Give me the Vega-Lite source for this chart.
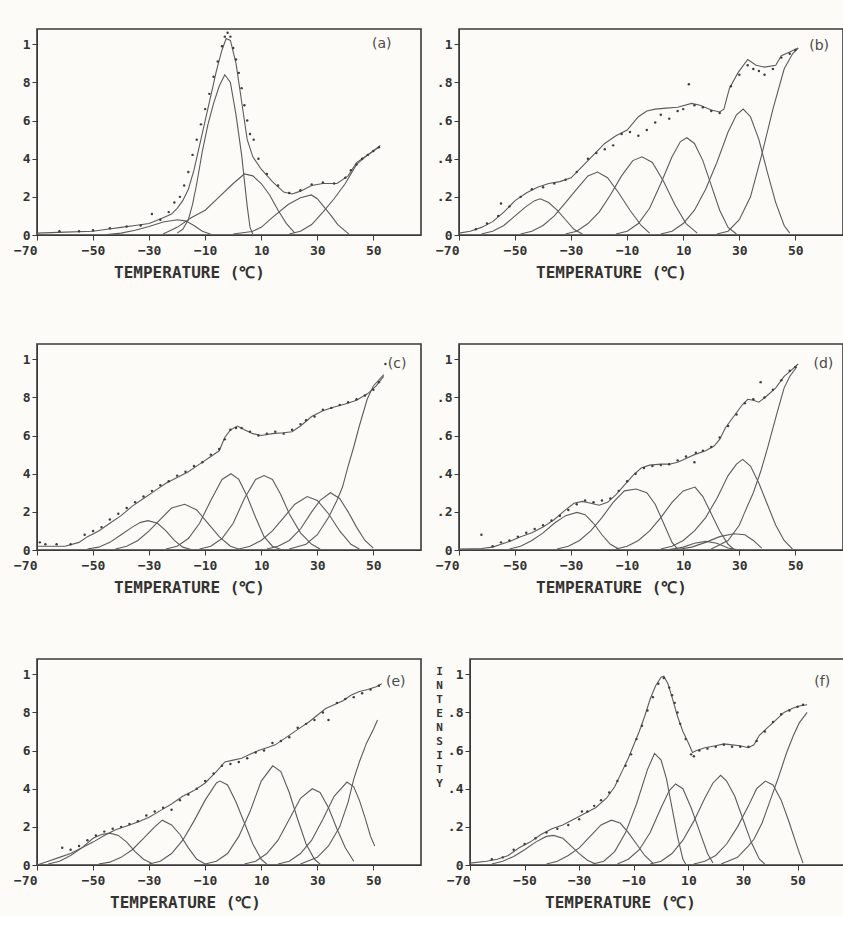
{
"$schema": "https://vega.github.io/schema/vega-lite/v6.json",
"background": "#fdfbf7",
"padding": {"left": 12, "top": 28, "right": 0, "bottom": 5},
"config": {
  "view": {"stroke": "#3a3a3a", "strokeWidth": 1.6},
  "axis": {"grid": false, "domainColor": "#3a3a3a", "tickColor": "#3a3a3a", "labelColor": "#333", "labelFont": "DejaVu Sans Mono", "labelFontSize": 13, "labelFontWeight": "bold", "titleFont": "DejaVu Sans Mono", "titleColor": "#333", "titleFontWeight": "bold", "titleFontSize": 16}
},
"datasets": {
"a": [
{"t":-70,"v":0.01,"s":"fit"},{"t":-60,"v":0.015,"s":"fit"},{"t":-50,"v":0.02,"s":"fit"},{"t":-45,"v":0.03,"s":"fit"},{"t":-40,"v":0.04,"s":"fit"},{"t":-35,"v":0.05,"s":"fit"},{"t":-30,"v":0.06,"s":"fit"},{"t":-25,"v":0.09,"s":"fit"},{"t":-22,"v":0.11,"s":"fit"},{"t":-20,"v":0.14,"s":"fit"},{"t":-18,"v":0.18,"s":"fit"},{"t":-16,"v":0.24,"s":"fit"},{"t":-14,"v":0.34,"s":"fit"},{"t":-12,"v":0.47,"s":"fit"},{"t":-10,"v":0.6,"s":"fit"},{"t":-8,"v":0.73,"s":"fit"},{"t":-6,"v":0.86,"s":"fit"},{"t":-4,"v":0.97,"s":"fit"},{"t":-2.5,"v":1.03,"s":"fit"},{"t":-1,"v":1.02,"s":"fit"},{"t":1,"v":0.9,"s":"fit"},{"t":3,"v":0.7,"s":"fit"},{"t":5,"v":0.5,"s":"fit"},{"t":7,"v":0.41,"s":"fit"},{"t":10,"v":0.345,"s":"fit"},{"t":14,"v":0.28,"s":"fit"},{"t":18,"v":0.225,"s":"fit"},{"t":21,"v":0.215,"s":"fit"},{"t":24,"v":0.23,"s":"fit"},{"t":28,"v":0.26,"s":"fit"},{"t":32,"v":0.27,"s":"fit"},{"t":37,"v":0.27,"s":"fit"},{"t":41,"v":0.31,"s":"fit"},{"t":44,"v":0.38,"s":"fit"},{"t":49,"v":0.43,"s":"fit"},{"t":52.5,"v":0.47,"s":"fit"},
{"t":-45,"v":0.003,"s":"c1"},{"t":-40,"v":0.01,"s":"c1"},{"t":-35,"v":0.025,"s":"c1"},{"t":-30,"v":0.045,"s":"c1"},{"t":-25,"v":0.068,"s":"c1"},{"t":-20,"v":0.08,"s":"c1"},{"t":-17,"v":0.074,"s":"c1"},{"t":-14,"v":0.05,"s":"c1"},{"t":-11,"v":0.02,"s":"c1"},{"t":-8,"v":0.004,"s":"c1"},
{"t":-20,"v":0.01,"s":"c2"},{"t":-18,"v":0.03,"s":"c2"},{"t":-16,"v":0.08,"s":"c2"},{"t":-14.5,"v":0.16,"s":"c2"},{"t":-13,"v":0.27,"s":"c2"},{"t":-11,"v":0.44,"s":"c2"},{"t":-9,"v":0.58,"s":"c2"},{"t":-7,"v":0.69,"s":"c2"},{"t":-5,"v":0.78,"s":"c2"},{"t":-3,"v":0.84,"s":"c2"},{"t":-1,"v":0.8,"s":"c2"},{"t":1,"v":0.63,"s":"c2"},{"t":3,"v":0.42,"s":"c2"},{"t":5,"v":0.15,"s":"c2"},{"t":6,"v":0.04,"s":"c2"},{"t":7,"v":0.005,"s":"c2"},
{"t":-25,"v":0.005,"s":"c3"},{"t":-20,"v":0.04,"s":"c3"},{"t":-15,"v":0.09,"s":"c3"},{"t":-10,"v":0.13,"s":"c3"},{"t":-5,"v":0.2,"s":"c3"},{"t":0,"v":0.27,"s":"c3"},{"t":4,"v":0.32,"s":"c3"},{"t":7,"v":0.31,"s":"c3"},{"t":10,"v":0.27,"s":"c3"},{"t":13,"v":0.21,"s":"c3"},{"t":16,"v":0.13,"s":"c3"},{"t":19,"v":0.06,"s":"c3"},{"t":22,"v":0.01,"s":"c3"},
{"t":0,"v":0.005,"s":"c4"},{"t":6.7,"v":0.018,"s":"c4"},{"t":10,"v":0.04,"s":"c4"},{"t":13.8,"v":0.09,"s":"c4"},{"t":19.6,"v":0.16,"s":"c4"},{"t":24,"v":0.195,"s":"c4"},{"t":27.9,"v":0.21,"s":"c4"},{"t":30,"v":0.19,"s":"c4"},{"t":32.6,"v":0.144,"s":"c4"},{"t":35,"v":0.1,"s":"c4"},{"t":37.3,"v":0.054,"s":"c4"},{"t":41.4,"v":0.003,"s":"c4"},
{"t":20,"v":0.005,"s":"c5"},{"t":24,"v":0.02,"s":"c5"},{"t":28,"v":0.055,"s":"c5"},{"t":32,"v":0.12,"s":"c5"},{"t":36,"v":0.19,"s":"c5"},{"t":40,"v":0.27,"s":"c5"},{"t":44,"v":0.37,"s":"c5"},{"t":48,"v":0.42,"s":"c5"},{"t":52,"v":0.46,"s":"c5"},
{"t":-62,"v":0.02,"s":"pts"},{"t":-55,"v":0.02,"s":"pts"},{"t":-50,"v":0.025,"s":"pts"},{"t":-44,"v":0.035,"s":"pts"},{"t":-38,"v":0.045,"s":"pts"},{"t":-33,"v":0.05,"s":"pts"},{"t":-29,"v":0.11,"s":"pts"},{"t":-26,"v":0.08,"s":"pts"},{"t":-23,"v":0.12,"s":"pts"},{"t":-21,"v":0.17,"s":"pts"},{"t":-19,"v":0.2,"s":"pts"},{"t":-17.5,"v":0.26,"s":"pts"},{"t":-16,"v":0.33,"s":"pts"},{"t":-14.5,"v":0.42,"s":"pts"},{"t":-13,"v":0.5,"s":"pts"},{"t":-11.5,"v":0.58,"s":"pts"},{"t":-10,"v":0.66,"s":"pts"},{"t":-8.5,"v":0.74,"s":"pts"},{"t":-7,"v":0.83,"s":"pts"},{"t":-5.5,"v":0.91,"s":"pts"},{"t":-4,"v":0.99,"s":"pts"},{"t":-3,"v":1.04,"s":"pts"},{"t":-2,"v":1.06,"s":"pts"},{"t":-1,"v":1.04,"s":"pts"},{"t":0,"v":0.98,"s":"pts"},{"t":1,"v":0.92,"s":"pts"},{"t":2,"v":0.85,"s":"pts"},{"t":3,"v":0.77,"s":"pts"},{"t":4,"v":0.68,"s":"pts"},{"t":5,"v":0.6,"s":"pts"},{"t":6,"v":0.53,"s":"pts"},{"t":7.3,"v":0.5,"s":"pts"},{"t":9,"v":0.4,"s":"pts"},{"t":12,"v":0.32,"s":"pts"},{"t":16,"v":0.26,"s":"pts"},{"t":20,"v":0.22,"s":"pts"},{"t":24,"v":0.235,"s":"pts"},{"t":28,"v":0.265,"s":"pts"},{"t":32,"v":0.275,"s":"pts"},{"t":36,"v":0.27,"s":"pts"},{"t":40,"v":0.3,"s":"pts"},{"t":42,"v":0.34,"s":"pts"},{"t":44,"v":0.37,"s":"pts"},{"t":46,"v":0.4,"s":"pts"},{"t":48,"v":0.42,"s":"pts"},{"t":50,"v":0.44,"s":"pts"},{"t":52,"v":0.46,"s":"pts"}
],
"b": [
{"t":-70,"v":0.01,"s":"fit"},{"t":-66,"v":0.02,"s":"fit"},{"t":-62,"v":0.04,"s":"fit"},{"t":-58,"v":0.07,"s":"fit"},{"t":-54,"v":0.12,"s":"fit"},{"t":-50,"v":0.18,"s":"fit"},{"t":-46,"v":0.22,"s":"fit"},{"t":-42,"v":0.25,"s":"fit"},{"t":-38,"v":0.27,"s":"fit"},{"t":-34,"v":0.28,"s":"fit"},{"t":-30,"v":0.3,"s":"fit"},{"t":-26,"v":0.36,"s":"fit"},{"t":-22,"v":0.42,"s":"fit"},{"t":-18,"v":0.48,"s":"fit"},{"t":-14,"v":0.52,"s":"fit"},{"t":-10,"v":0.55,"s":"fit"},{"t":-6,"v":0.62,"s":"fit"},{"t":-3,"v":0.65,"s":"fit"},{"t":0,"v":0.66,"s":"fit"},{"t":4,"v":0.665,"s":"fit"},{"t":8,"v":0.67,"s":"fit"},{"t":13,"v":0.69,"s":"fit"},{"t":16,"v":0.68,"s":"fit"},{"t":20,"v":0.655,"s":"fit"},{"t":23,"v":0.645,"s":"fit"},{"t":24.5,"v":0.66,"s":"fit"},{"t":26.5,"v":0.77,"s":"fit"},{"t":29.5,"v":0.85,"s":"fit"},{"t":33,"v":0.92,"s":"fit"},{"t":36,"v":0.89,"s":"fit"},{"t":39,"v":0.88,"s":"fit"},{"t":43,"v":0.89,"s":"fit"},{"t":45,"v":0.94,"s":"fit"},{"t":48,"v":0.96,"s":"fit"},{"t":51,"v":0.98,"s":"fit"},
{"t":-62,"v":0.005,"s":"c1"},{"t":-58,"v":0.02,"s":"c1"},{"t":-54,"v":0.05,"s":"c1"},{"t":-50,"v":0.1,"s":"c1"},{"t":-46,"v":0.15,"s":"c1"},{"t":-43,"v":0.18,"s":"c1"},{"t":-41,"v":0.19,"s":"c1"},{"t":-38,"v":0.17,"s":"c1"},{"t":-35,"v":0.13,"s":"c1"},{"t":-32,"v":0.08,"s":"c1"},{"t":-29,"v":0.03,"s":"c1"},{"t":-26,"v":0.005,"s":"c1"},
{"t":-48,"v":0.005,"s":"c2"},{"t":-44,"v":0.02,"s":"c2"},{"t":-40,"v":0.05,"s":"c2"},{"t":-36,"v":0.1,"s":"c2"},{"t":-32,"v":0.17,"s":"c2"},{"t":-28,"v":0.24,"s":"c2"},{"t":-24,"v":0.31,"s":"c2"},{"t":-20.6,"v":0.33,"s":"c2"},{"t":-17,"v":0.3,"s":"c2"},{"t":-13,"v":0.22,"s":"c2"},{"t":-9,"v":0.13,"s":"c2"},{"t":-5,"v":0.05,"s":"c2"},{"t":-2,"v":0.01,"s":"c2"},
{"t":-32,"v":0.005,"s":"c3"},{"t":-28,"v":0.02,"s":"c3"},{"t":-24,"v":0.06,"s":"c3"},{"t":-20,"v":0.12,"s":"c3"},{"t":-16,"v":0.21,"s":"c3"},{"t":-12,"v":0.31,"s":"c3"},{"t":-8,"v":0.39,"s":"c3"},{"t":-4.7,"v":0.41,"s":"c3"},{"t":-1,"v":0.38,"s":"c3"},{"t":3,"v":0.28,"s":"c3"},{"t":7,"v":0.16,"s":"c3"},{"t":11,"v":0.06,"s":"c3"},{"t":15,"v":0.01,"s":"c3"},
{"t":-14,"v":0.005,"s":"c4"},{"t":-10,"v":0.02,"s":"c4"},{"t":-6,"v":0.06,"s":"c4"},{"t":-2,"v":0.14,"s":"c4"},{"t":2,"v":0.27,"s":"c4"},{"t":6,"v":0.41,"s":"c4"},{"t":9,"v":0.49,"s":"c4"},{"t":11.3,"v":0.51,"s":"c4"},{"t":14,"v":0.48,"s":"c4"},{"t":17,"v":0.39,"s":"c4"},{"t":20,"v":0.26,"s":"c4"},{"t":23,"v":0.13,"s":"c4"},{"t":26,"v":0.04,"s":"c4"},{"t":29,"v":0.005,"s":"c4"},
{"t":2,"v":0.005,"s":"c5"},{"t":6,"v":0.02,"s":"c5"},{"t":10,"v":0.06,"s":"c5"},{"t":14,"v":0.13,"s":"c5"},{"t":18,"v":0.24,"s":"c5"},{"t":22,"v":0.38,"s":"c5"},{"t":26,"v":0.54,"s":"c5"},{"t":29,"v":0.63,"s":"c5"},{"t":31.4,"v":0.66,"s":"c5"},{"t":34,"v":0.62,"s":"c5"},{"t":37,"v":0.5,"s":"c5"},{"t":40,"v":0.33,"s":"c5"},{"t":43,"v":0.17,"s":"c5"},{"t":46,"v":0.05,"s":"c5"},{"t":48,"v":0.01,"s":"c5"},
{"t":22,"v":0.005,"s":"c6"},{"t":26,"v":0.02,"s":"c6"},{"t":30,"v":0.08,"s":"c6"},{"t":34,"v":0.2,"s":"c6"},{"t":38,"v":0.42,"s":"c6"},{"t":42,"v":0.66,"s":"c6"},{"t":46,"v":0.87,"s":"c6"},{"t":49,"v":0.95,"s":"c6"},{"t":51,"v":0.98,"s":"c6"},
{"t":-64,"v":0.03,"s":"pts"},{"t":-60,"v":0.06,"s":"pts"},{"t":-56,"v":0.1,"s":"pts"},{"t":-55,"v":0.165,"s":"pts"},{"t":-52,"v":0.15,"s":"pts"},{"t":-48,"v":0.2,"s":"pts"},{"t":-44,"v":0.24,"s":"pts"},{"t":-40,"v":0.25,"s":"pts"},{"t":-36,"v":0.27,"s":"pts"},{"t":-32,"v":0.29,"s":"pts"},{"t":-28,"v":0.33,"s":"pts"},{"t":-24,"v":0.4,"s":"pts"},{"t":-21,"v":0.43,"s":"pts"},{"t":-18,"v":0.45,"s":"pts"},{"t":-15,"v":0.47,"s":"pts"},{"t":-12,"v":0.53,"s":"pts"},{"t":-9,"v":0.54,"s":"pts"},{"t":-6,"v":0.52,"s":"pts"},{"t":-3,"v":0.55,"s":"pts"},{"t":0,"v":0.59,"s":"pts"},{"t":2,"v":0.63,"s":"pts"},{"t":5,"v":0.61,"s":"pts"},{"t":8,"v":0.65,"s":"pts"},{"t":10,"v":0.66,"s":"pts"},{"t":12,"v":0.79,"s":"pts"},{"t":14,"v":0.68,"s":"pts"},{"t":17,"v":0.67,"s":"pts"},{"t":20,"v":0.65,"s":"pts"},{"t":23,"v":0.64,"s":"pts"},{"t":27,"v":0.78,"s":"pts"},{"t":30,"v":0.84,"s":"pts"},{"t":33,"v":0.89,"s":"pts"},{"t":35,"v":0.87,"s":"pts"},{"t":37,"v":0.86,"s":"pts"},{"t":39,"v":0.84,"s":"pts"},{"t":42,"v":0.87,"s":"pts"},{"t":45,"v":0.93,"s":"pts"},{"t":48,"v":0.95,"s":"pts"},{"t":50,"v":0.97,"s":"pts"}
],
"c": [
{"t":-70,"v":0.02,"s":"fit"},{"t":-65,"v":0.02,"s":"fit"},{"t":-60,"v":0.02,"s":"fit"},{"t":-55,"v":0.04,"s":"fit"},{"t":-52,"v":0.07,"s":"fit"},{"t":-48,"v":0.1,"s":"fit"},{"t":-44,"v":0.14,"s":"fit"},{"t":-40,"v":0.18,"s":"fit"},{"t":-36,"v":0.23,"s":"fit"},{"t":-32,"v":0.27,"s":"fit"},{"t":-28,"v":0.31,"s":"fit"},{"t":-24,"v":0.35,"s":"fit"},{"t":-20,"v":0.38,"s":"fit"},{"t":-16,"v":0.41,"s":"fit"},{"t":-12,"v":0.45,"s":"fit"},{"t":-8,"v":0.49,"s":"fit"},{"t":-5,"v":0.52,"s":"fit"},{"t":-3,"v":0.59,"s":"fit"},{"t":-1,"v":0.63,"s":"fit"},{"t":1.5,"v":0.65,"s":"fit"},{"t":4,"v":0.63,"s":"fit"},{"t":7,"v":0.61,"s":"fit"},{"t":10,"v":0.6,"s":"fit"},{"t":14,"v":0.61,"s":"fit"},{"t":18,"v":0.615,"s":"fit"},{"t":21,"v":0.62,"s":"fit"},{"t":24,"v":0.65,"s":"fit"},{"t":28,"v":0.7,"s":"fit"},{"t":32,"v":0.73,"s":"fit"},{"t":36,"v":0.75,"s":"fit"},{"t":40,"v":0.765,"s":"fit"},{"t":44,"v":0.785,"s":"fit"},{"t":48,"v":0.82,"s":"fit"},{"t":51,"v":0.86,"s":"fit"},{"t":53.7,"v":0.91,"s":"fit"},
{"t":-52,"v":0.005,"s":"c1"},{"t":-48,"v":0.015,"s":"c1"},{"t":-44,"v":0.04,"s":"c1"},{"t":-40,"v":0.08,"s":"c1"},{"t":-36,"v":0.12,"s":"c1"},{"t":-33,"v":0.145,"s":"c1"},{"t":-30.4,"v":0.154,"s":"c1"},{"t":-27,"v":0.14,"s":"c1"},{"t":-24,"v":0.1,"s":"c1"},{"t":-21,"v":0.05,"s":"c1"},{"t":-18,"v":0.015,"s":"c1"},{"t":-15,"v":0.003,"s":"c1"},
{"t":-42,"v":0.005,"s":"c2"},{"t":-38,"v":0.02,"s":"c2"},{"t":-34,"v":0.05,"s":"c2"},{"t":-30,"v":0.1,"s":"c2"},{"t":-26,"v":0.16,"s":"c2"},{"t":-22,"v":0.22,"s":"c2"},{"t":-17.3,"v":0.24,"s":"c2"},{"t":-13,"v":0.21,"s":"c2"},{"t":-9,"v":0.14,"s":"c2"},{"t":-5,"v":0.07,"s":"c2"},{"t":-1,"v":0.02,"s":"c2"},{"t":2,"v":0.005,"s":"c2"},
{"t":-24,"v":0.005,"s":"c3"},{"t":-20,"v":0.02,"s":"c3"},{"t":-16,"v":0.06,"s":"c3"},{"t":-12,"v":0.14,"s":"c3"},{"t":-8,"v":0.26,"s":"c3"},{"t":-4,"v":0.37,"s":"c3"},{"t":-0.8,"v":0.4,"s":"c3"},{"t":2,"v":0.37,"s":"c3"},{"t":5,"v":0.28,"s":"c3"},{"t":8,"v":0.17,"s":"c3"},{"t":11,"v":0.07,"s":"c3"},{"t":14,"v":0.02,"s":"c3"},{"t":17,"v":0.003,"s":"c3"},
{"t":-12,"v":0.005,"s":"c4"},{"t":-8,"v":0.02,"s":"c4"},{"t":-4,"v":0.06,"s":"c4"},{"t":0,"v":0.14,"s":"c4"},{"t":4,"v":0.27,"s":"c4"},{"t":8,"v":0.37,"s":"c4"},{"t":11,"v":0.39,"s":"c4"},{"t":14,"v":0.37,"s":"c4"},{"t":17,"v":0.29,"s":"c4"},{"t":20,"v":0.19,"s":"c4"},{"t":24,"v":0.09,"s":"c4"},{"t":28,"v":0.03,"s":"c4"},{"t":31,"v":0.005,"s":"c4"},
{"t":2,"v":0.005,"s":"c5"},{"t":6,"v":0.02,"s":"c5"},{"t":10,"v":0.05,"s":"c5"},{"t":14,"v":0.1,"s":"c5"},{"t":18,"v":0.17,"s":"c5"},{"t":22,"v":0.24,"s":"c5"},{"t":26.4,"v":0.28,"s":"c5"},{"t":30,"v":0.26,"s":"c5"},{"t":34,"v":0.19,"s":"c5"},{"t":38,"v":0.1,"s":"c5"},{"t":42,"v":0.03,"s":"c5"},{"t":45,"v":0.005,"s":"c5"},
{"t":12,"v":0.005,"s":"c6"},{"t":16,"v":0.02,"s":"c6"},{"t":20,"v":0.05,"s":"c6"},{"t":24,"v":0.11,"s":"c6"},{"t":28,"v":0.2,"s":"c6"},{"t":31,"v":0.26,"s":"c6"},{"t":34.7,"v":0.3,"s":"c6"},{"t":38,"v":0.27,"s":"c6"},{"t":41,"v":0.2,"s":"c6"},{"t":44,"v":0.12,"s":"c6"},{"t":47,"v":0.05,"s":"c6"},{"t":50,"v":0.01,"s":"c6"},
{"t":20,"v":0.005,"s":"c7"},{"t":26,"v":0.03,"s":"c7"},{"t":30,"v":0.08,"s":"c7"},{"t":34,"v":0.17,"s":"c7"},{"t":37,"v":0.26,"s":"c7"},{"t":39,"v":0.33,"s":"c7"},{"t":41,"v":0.44,"s":"c7"},{"t":43,"v":0.54,"s":"c7"},{"t":45,"v":0.65,"s":"c7"},{"t":47.8,"v":0.79,"s":"c7"},{"t":50,"v":0.86,"s":"c7"},{"t":53.7,"v":0.92,"s":"c7"},
{"t":-69,"v":0.04,"s":"pts"},{"t":-67,"v":0.03,"s":"pts"},{"t":-63,"v":0.03,"s":"pts"},{"t":-58,"v":0.03,"s":"pts"},{"t":-53,"v":0.08,"s":"pts"},{"t":-50,"v":0.1,"s":"pts"},{"t":-47,"v":0.12,"s":"pts"},{"t":-44,"v":0.16,"s":"pts"},{"t":-41,"v":0.19,"s":"pts"},{"t":-38,"v":0.22,"s":"pts"},{"t":-35,"v":0.25,"s":"pts"},{"t":-32,"v":0.28,"s":"pts"},{"t":-29,"v":0.31,"s":"pts"},{"t":-26,"v":0.34,"s":"pts"},{"t":-23,"v":0.36,"s":"pts"},{"t":-20,"v":0.39,"s":"pts"},{"t":-17,"v":0.41,"s":"pts"},{"t":-14,"v":0.44,"s":"pts"},{"t":-11,"v":0.46,"s":"pts"},{"t":-8,"v":0.5,"s":"pts"},{"t":-5,"v":0.53,"s":"pts"},{"t":-3,"v":0.58,"s":"pts"},{"t":-1,"v":0.63,"s":"pts"},{"t":1,"v":0.64,"s":"pts"},{"t":3,"v":0.64,"s":"pts"},{"t":6,"v":0.62,"s":"pts"},{"t":9,"v":0.6,"s":"pts"},{"t":12,"v":0.61,"s":"pts"},{"t":15,"v":0.62,"s":"pts"},{"t":18,"v":0.61,"s":"pts"},{"t":21,"v":0.63,"s":"pts"},{"t":24,"v":0.66,"s":"pts"},{"t":26,"v":0.68,"s":"pts"},{"t":29,"v":0.7,"s":"pts"},{"t":32,"v":0.735,"s":"pts"},{"t":35,"v":0.745,"s":"pts"},{"t":38,"v":0.76,"s":"pts"},{"t":41,"v":0.775,"s":"pts"},{"t":44,"v":0.79,"s":"pts"},{"t":47,"v":0.81,"s":"pts"},{"t":50,"v":0.84,"s":"pts"},{"t":52,"v":0.88,"s":"pts"},{"t":54.3,"v":0.975,"s":"pts"}
],
"d": [
{"t":-70,"v":0.005,"s":"fit"},{"t":-62,"v":0.008,"s":"fit"},{"t":-58,"v":0.015,"s":"fit"},{"t":-55,"v":0.03,"s":"fit"},{"t":-52,"v":0.045,"s":"fit"},{"t":-48,"v":0.07,"s":"fit"},{"t":-44,"v":0.09,"s":"fit"},{"t":-40,"v":0.12,"s":"fit"},{"t":-36,"v":0.16,"s":"fit"},{"t":-32,"v":0.21,"s":"fit"},{"t":-29,"v":0.245,"s":"fit"},{"t":-26,"v":0.255,"s":"fit"},{"t":-23,"v":0.245,"s":"fit"},{"t":-20,"v":0.235,"s":"fit"},{"t":-17,"v":0.25,"s":"fit"},{"t":-14,"v":0.29,"s":"fit"},{"t":-11,"v":0.34,"s":"fit"},{"t":-8,"v":0.39,"s":"fit"},{"t":-5,"v":0.43,"s":"fit"},{"t":-2,"v":0.445,"s":"fit"},{"t":2,"v":0.45,"s":"fit"},{"t":5,"v":0.45,"s":"fit"},{"t":8,"v":0.46,"s":"fit"},{"t":11,"v":0.48,"s":"fit"},{"t":14,"v":0.5,"s":"fit"},{"t":18,"v":0.52,"s":"fit"},{"t":21,"v":0.545,"s":"fit"},{"t":23,"v":0.58,"s":"fit"},{"t":25,"v":0.64,"s":"fit"},{"t":28,"v":0.7,"s":"fit"},{"t":31,"v":0.76,"s":"fit"},{"t":33,"v":0.79,"s":"fit"},{"t":35,"v":0.785,"s":"fit"},{"t":37,"v":0.775,"s":"fit"},{"t":40,"v":0.81,"s":"fit"},{"t":43,"v":0.85,"s":"fit"},{"t":46,"v":0.91,"s":"fit"},{"t":48,"v":0.935,"s":"fit"},{"t":51,"v":0.975,"s":"fit"},
{"t":-52,"v":0.005,"s":"c1"},{"t":-48,"v":0.02,"s":"c1"},{"t":-44,"v":0.05,"s":"c1"},{"t":-40,"v":0.09,"s":"c1"},{"t":-36,"v":0.14,"s":"c1"},{"t":-32,"v":0.18,"s":"c1"},{"t":-27.9,"v":0.197,"s":"c1"},{"t":-25,"v":0.185,"s":"c1"},{"t":-22,"v":0.14,"s":"c1"},{"t":-19,"v":0.08,"s":"c1"},{"t":-16,"v":0.03,"s":"c1"},{"t":-13,"v":0.005,"s":"c1"},
{"t":-35,"v":0.005,"s":"c2"},{"t":-31,"v":0.02,"s":"c2"},{"t":-27,"v":0.05,"s":"c2"},{"t":-23,"v":0.1,"s":"c2"},{"t":-19,"v":0.17,"s":"c2"},{"t":-15,"v":0.25,"s":"c2"},{"t":-11,"v":0.31,"s":"c2"},{"t":-6.8,"v":0.32,"s":"c2"},{"t":-3,"v":0.3,"s":"c2"},{"t":0,"v":0.24,"s":"c2"},{"t":3,"v":0.14,"s":"c2"},{"t":6,"v":0.04,"s":"c2"},{"t":8,"v":0.005,"s":"c2"},
{"t":-14,"v":0.005,"s":"c3"},{"t":-10,"v":0.02,"s":"c3"},{"t":-6,"v":0.05,"s":"c3"},{"t":-2,"v":0.1,"s":"c3"},{"t":2,"v":0.17,"s":"c3"},{"t":6,"v":0.25,"s":"c3"},{"t":10,"v":0.31,"s":"c3"},{"t":14.2,"v":0.33,"s":"c3"},{"t":17,"v":0.28,"s":"c3"},{"t":20,"v":0.19,"s":"c3"},{"t":23,"v":0.1,"s":"c3"},{"t":26,"v":0.03,"s":"c3"},{"t":28,"v":0.005,"s":"c3"},
{"t":2,"v":0.005,"s":"c4"},{"t":6,"v":0.02,"s":"c4"},{"t":10,"v":0.05,"s":"c4"},{"t":14,"v":0.1,"s":"c4"},{"t":18,"v":0.17,"s":"c4"},{"t":22,"v":0.27,"s":"c4"},{"t":26,"v":0.39,"s":"c4"},{"t":29,"v":0.45,"s":"c4"},{"t":31.2,"v":0.475,"s":"c4"},{"t":34,"v":0.44,"s":"c4"},{"t":37,"v":0.35,"s":"c4"},{"t":40,"v":0.24,"s":"c4"},{"t":43,"v":0.13,"s":"c4"},{"t":46,"v":0.05,"s":"c4"},{"t":49,"v":0.005,"s":"c4"},
{"t":8,"v":0.003,"s":"c5"},{"t":13,"v":0.015,"s":"c5"},{"t":18,"v":0.04,"s":"c5"},{"t":23,"v":0.07,"s":"c5"},{"t":28,"v":0.085,"s":"c5"},{"t":32,"v":0.08,"s":"c5"},{"t":35,"v":0.05,"s":"c5"},{"t":38,"v":0.01,"s":"c5"},
{"t":5,"v":0.003,"s":"c6"},{"t":10,"v":0.015,"s":"c6"},{"t":14,"v":0.035,"s":"c6"},{"t":18,"v":0.045,"s":"c6"},{"t":22,"v":0.035,"s":"c6"},{"t":26,"v":0.01,"s":"c6"},{"t":29,"v":0.002,"s":"c6"},
{"t":20,"v":0.005,"s":"c7"},{"t":26,"v":0.05,"s":"c7"},{"t":30,"v":0.13,"s":"c7"},{"t":32,"v":0.2,"s":"c7"},{"t":35,"v":0.3,"s":"c7"},{"t":37.6,"v":0.41,"s":"c7"},{"t":40,"v":0.53,"s":"c7"},{"t":43.5,"v":0.72,"s":"c7"},{"t":46,"v":0.85,"s":"c7"},{"t":48,"v":0.91,"s":"c7"},{"t":50.5,"v":0.96,"s":"c7"},
{"t":-62,"v":0.08,"s":"pts"},{"t":-58,"v":0.02,"s":"pts"},{"t":-55,"v":0.04,"s":"pts"},{"t":-52,"v":0.05,"s":"pts"},{"t":-49,"v":0.07,"s":"pts"},{"t":-46,"v":0.09,"s":"pts"},{"t":-43,"v":0.11,"s":"pts"},{"t":-40,"v":0.13,"s":"pts"},{"t":-37,"v":0.155,"s":"pts"},{"t":-34,"v":0.18,"s":"pts"},{"t":-31,"v":0.21,"s":"pts"},{"t":-28,"v":0.24,"s":"pts"},{"t":-25,"v":0.26,"s":"pts"},{"t":-22,"v":0.25,"s":"pts"},{"t":-19,"v":0.26,"s":"pts"},{"t":-16,"v":0.27,"s":"pts"},{"t":-13,"v":0.31,"s":"pts"},{"t":-10,"v":0.36,"s":"pts"},{"t":-7,"v":0.4,"s":"pts"},{"t":-4,"v":0.43,"s":"pts"},{"t":-1,"v":0.44,"s":"pts"},{"t":2,"v":0.445,"s":"pts"},{"t":5,"v":0.45,"s":"pts"},{"t":8,"v":0.47,"s":"pts"},{"t":11,"v":0.49,"s":"pts"},{"t":14,"v":0.46,"s":"pts"},{"t":14.5,"v":0.51,"s":"pts"},{"t":17,"v":0.52,"s":"pts"},{"t":20,"v":0.54,"s":"pts"},{"t":23,"v":0.59,"s":"pts"},{"t":26,"v":0.65,"s":"pts"},{"t":29,"v":0.71,"s":"pts"},{"t":32,"v":0.77,"s":"pts"},{"t":35,"v":0.79,"s":"pts"},{"t":37.6,"v":0.88,"s":"pts"},{"t":39,"v":0.8,"s":"pts"},{"t":42,"v":0.84,"s":"pts"},{"t":45,"v":0.89,"s":"pts"},{"t":48,"v":0.94,"s":"pts"},{"t":50,"v":0.96,"s":"pts"}
],
"e": [
{"t":-70,"v":0.0,"s":"fit"},{"t":-66,"v":0.02,"s":"fit"},{"t":-62,"v":0.04,"s":"fit"},{"t":-58,"v":0.06,"s":"fit"},{"t":-54,"v":0.09,"s":"fit"},{"t":-50,"v":0.12,"s":"fit"},{"t":-46,"v":0.155,"s":"fit"},{"t":-42,"v":0.185,"s":"fit"},{"t":-38,"v":0.205,"s":"fit"},{"t":-34,"v":0.225,"s":"fit"},{"t":-30,"v":0.25,"s":"fit"},{"t":-26,"v":0.285,"s":"fit"},{"t":-22,"v":0.32,"s":"fit"},{"t":-18,"v":0.36,"s":"fit"},{"t":-14,"v":0.39,"s":"fit"},{"t":-10,"v":0.43,"s":"fit"},{"t":-6,"v":0.49,"s":"fit"},{"t":-3,"v":0.54,"s":"fit"},{"t":0,"v":0.55,"s":"fit"},{"t":3,"v":0.56,"s":"fit"},{"t":6,"v":0.58,"s":"fit"},{"t":9,"v":0.6,"s":"fit"},{"t":12,"v":0.615,"s":"fit"},{"t":15,"v":0.63,"s":"fit"},{"t":18,"v":0.66,"s":"fit"},{"t":21,"v":0.69,"s":"fit"},{"t":24,"v":0.72,"s":"fit"},{"t":27,"v":0.75,"s":"fit"},{"t":30,"v":0.785,"s":"fit"},{"t":33,"v":0.82,"s":"fit"},{"t":36,"v":0.84,"s":"fit"},{"t":39,"v":0.86,"s":"fit"},{"t":42,"v":0.89,"s":"fit"},{"t":45,"v":0.91,"s":"fit"},{"t":48,"v":0.92,"s":"fit"},{"t":51,"v":0.935,"s":"fit"},{"t":53,"v":0.95,"s":"fit"},
{"t":-66,"v":0.005,"s":"c1"},{"t":-62,"v":0.02,"s":"c1"},{"t":-58,"v":0.05,"s":"c1"},{"t":-54,"v":0.09,"s":"c1"},{"t":-50,"v":0.14,"s":"c1"},{"t":-47,"v":0.16,"s":"c1"},{"t":-44,"v":0.167,"s":"c1"},{"t":-41,"v":0.155,"s":"c1"},{"t":-38,"v":0.12,"s":"c1"},{"t":-35,"v":0.07,"s":"c1"},{"t":-32,"v":0.03,"s":"c1"},{"t":-29,"v":0.008,"s":"c1"},
{"t":-48,"v":0.005,"s":"c2"},{"t":-44,"v":0.015,"s":"c2"},{"t":-40,"v":0.04,"s":"c2"},{"t":-36,"v":0.08,"s":"c2"},{"t":-32,"v":0.14,"s":"c2"},{"t":-28,"v":0.2,"s":"c2"},{"t":-25.3,"v":0.235,"s":"c2"},{"t":-22,"v":0.21,"s":"c2"},{"t":-19,"v":0.16,"s":"c2"},{"t":-16,"v":0.09,"s":"c2"},{"t":-13,"v":0.03,"s":"c2"},{"t":-10,"v":0.005,"s":"c2"},
{"t":-30,"v":0.005,"s":"c3"},{"t":-26,"v":0.02,"s":"c3"},{"t":-22,"v":0.06,"s":"c3"},{"t":-18,"v":0.13,"s":"c3"},{"t":-14,"v":0.23,"s":"c3"},{"t":-10,"v":0.34,"s":"c3"},{"t":-6,"v":0.43,"s":"c3"},{"t":-4.7,"v":0.44,"s":"c3"},{"t":-2,"v":0.42,"s":"c3"},{"t":1,"v":0.33,"s":"c3"},{"t":4,"v":0.22,"s":"c3"},{"t":7,"v":0.11,"s":"c3"},{"t":10,"v":0.03,"s":"c3"},{"t":12,"v":0.005,"s":"c3"},
{"t":-10,"v":0.005,"s":"c4"},{"t":-6,"v":0.02,"s":"c4"},{"t":-2,"v":0.06,"s":"c4"},{"t":2,"v":0.15,"s":"c4"},{"t":6,"v":0.28,"s":"c4"},{"t":10,"v":0.44,"s":"c4"},{"t":14.1,"v":0.52,"s":"c4"},{"t":17,"v":0.49,"s":"c4"},{"t":20,"v":0.38,"s":"c4"},{"t":23,"v":0.24,"s":"c4"},{"t":26,"v":0.11,"s":"c4"},{"t":29,"v":0.03,"s":"c4"},{"t":31,"v":0.005,"s":"c4"},
{"t":4,"v":0.005,"s":"c5"},{"t":8,"v":0.02,"s":"c5"},{"t":12,"v":0.06,"s":"c5"},{"t":16,"v":0.13,"s":"c5"},{"t":20,"v":0.24,"s":"c5"},{"t":24,"v":0.35,"s":"c5"},{"t":28.2,"v":0.4,"s":"c5"},{"t":31,"v":0.38,"s":"c5"},{"t":34,"v":0.3,"s":"c5"},{"t":37,"v":0.19,"s":"c5"},{"t":40,"v":0.09,"s":"c5"},{"t":43,"v":0.02,"s":"c5"},
{"t":16,"v":0.005,"s":"c6"},{"t":20,"v":0.02,"s":"c6"},{"t":24,"v":0.06,"s":"c6"},{"t":28,"v":0.13,"s":"c6"},{"t":32,"v":0.24,"s":"c6"},{"t":36,"v":0.36,"s":"c6"},{"t":40.6,"v":0.435,"s":"c6"},{"t":43,"v":0.41,"s":"c6"},{"t":45,"v":0.34,"s":"c6"},{"t":47,"v":0.25,"s":"c6"},{"t":49,"v":0.15,"s":"c6"},{"t":50.5,"v":0.1,"s":"c6"},
{"t":24,"v":0.005,"s":"c7"},{"t":30,"v":0.04,"s":"c7"},{"t":34,"v":0.1,"s":"c7"},{"t":38,"v":0.2,"s":"c7"},{"t":41,"v":0.33,"s":"c7"},{"t":43,"v":0.45,"s":"c7"},{"t":45,"v":0.54,"s":"c7"},{"t":47.6,"v":0.64,"s":"c7"},{"t":50,"v":0.71,"s":"c7"},{"t":51.5,"v":0.76,"s":"c7"},
{"t":-61,"v":0.09,"s":"pts"},{"t":-58,"v":0.08,"s":"pts"},{"t":-55,"v":0.1,"s":"pts"},{"t":-52,"v":0.13,"s":"pts"},{"t":-49,"v":0.155,"s":"pts"},{"t":-46,"v":0.175,"s":"pts"},{"t":-43,"v":0.19,"s":"pts"},{"t":-40,"v":0.2,"s":"pts"},{"t":-37,"v":0.215,"s":"pts"},{"t":-34,"v":0.23,"s":"pts"},{"t":-31,"v":0.26,"s":"pts"},{"t":-28,"v":0.28,"s":"pts"},{"t":-25,"v":0.3,"s":"pts"},{"t":-22,"v":0.29,"s":"pts"},{"t":-19,"v":0.34,"s":"pts"},{"t":-16,"v":0.37,"s":"pts"},{"t":-13,"v":0.4,"s":"pts"},{"t":-10,"v":0.44,"s":"pts"},{"t":-7,"v":0.48,"s":"pts"},{"t":-4,"v":0.52,"s":"pts"},{"t":-1,"v":0.53,"s":"pts"},{"t":2,"v":0.54,"s":"pts"},{"t":5,"v":0.56,"s":"pts"},{"t":8,"v":0.59,"s":"pts"},{"t":11,"v":0.6,"s":"pts"},{"t":14,"v":0.64,"s":"pts"},{"t":17,"v":0.65,"s":"pts"},{"t":20,"v":0.67,"s":"pts"},{"t":23,"v":0.72,"s":"pts"},{"t":26,"v":0.74,"s":"pts"},{"t":29,"v":0.76,"s":"pts"},{"t":32,"v":0.8,"s":"pts"},{"t":34,"v":0.76,"s":"pts"},{"t":37,"v":0.85,"s":"pts"},{"t":40,"v":0.87,"s":"pts"},{"t":43,"v":0.88,"s":"pts"},{"t":46,"v":0.9,"s":"pts"},{"t":49,"v":0.92,"s":"pts"},{"t":52,"v":0.94,"s":"pts"}
],
"f": [
{"t":-70,"v":0.01,"s":"fit"},{"t":-64,"v":0.02,"s":"fit"},{"t":-60,"v":0.03,"s":"fit"},{"t":-56,"v":0.05,"s":"fit"},{"t":-52,"v":0.09,"s":"fit"},{"t":-48,"v":0.12,"s":"fit"},{"t":-44,"v":0.16,"s":"fit"},{"t":-40,"v":0.19,"s":"fit"},{"t":-36,"v":0.21,"s":"fit"},{"t":-32,"v":0.24,"s":"fit"},{"t":-28,"v":0.27,"s":"fit"},{"t":-24,"v":0.3,"s":"fit"},{"t":-20,"v":0.35,"s":"fit"},{"t":-17,"v":0.41,"s":"fit"},{"t":-14,"v":0.5,"s":"fit"},{"t":-12,"v":0.56,"s":"fit"},{"t":-10,"v":0.63,"s":"fit"},{"t":-8,"v":0.7,"s":"fit"},{"t":-6,"v":0.78,"s":"fit"},{"t":-4,"v":0.87,"s":"fit"},{"t":-2,"v":0.94,"s":"fit"},{"t":0,"v":0.985,"s":"fit"},{"t":1,"v":0.99,"s":"fit"},{"t":2.5,"v":0.95,"s":"fit"},{"t":4,"v":0.88,"s":"fit"},{"t":6,"v":0.78,"s":"fit"},{"t":8,"v":0.7,"s":"fit"},{"t":10,"v":0.64,"s":"fit"},{"t":11.5,"v":0.59,"s":"fit"},{"t":13,"v":0.6,"s":"fit"},{"t":16,"v":0.615,"s":"fit"},{"t":20,"v":0.625,"s":"fit"},{"t":23,"v":0.635,"s":"fit"},{"t":26,"v":0.63,"s":"fit"},{"t":29,"v":0.625,"s":"fit"},{"t":32,"v":0.615,"s":"fit"},{"t":34,"v":0.63,"s":"fit"},{"t":36,"v":0.68,"s":"fit"},{"t":39,"v":0.72,"s":"fit"},{"t":42,"v":0.76,"s":"fit"},{"t":45,"v":0.8,"s":"fit"},{"t":48,"v":0.82,"s":"fit"},{"t":51,"v":0.835,"s":"fit"},{"t":53.5,"v":0.84,"s":"fit"},
{"t":-62,"v":0.005,"s":"c1"},{"t":-58,"v":0.02,"s":"c1"},{"t":-54,"v":0.045,"s":"c1"},{"t":-50,"v":0.08,"s":"c1"},{"t":-46,"v":0.12,"s":"c1"},{"t":-42,"v":0.15,"s":"c1"},{"t":-39.4,"v":0.155,"s":"c1"},{"t":-36,"v":0.14,"s":"c1"},{"t":-33,"v":0.1,"s":"c1"},{"t":-30,"v":0.06,"s":"c1"},{"t":-27,"v":0.025,"s":"c1"},{"t":-24,"v":0.005,"s":"c1"},
{"t":-42,"v":0.005,"s":"c2"},{"t":-38,"v":0.02,"s":"c2"},{"t":-34,"v":0.05,"s":"c2"},{"t":-30,"v":0.09,"s":"c2"},{"t":-26,"v":0.15,"s":"c2"},{"t":-22,"v":0.21,"s":"c2"},{"t":-18.2,"v":0.235,"s":"c2"},{"t":-15,"v":0.22,"s":"c2"},{"t":-12,"v":0.17,"s":"c2"},{"t":-9,"v":0.11,"s":"c2"},{"t":-6,"v":0.05,"s":"c2"},{"t":-3,"v":0.01,"s":"c2"},
{"t":-25,"v":0.005,"s":"c3"},{"t":-21,"v":0.02,"s":"c3"},{"t":-17,"v":0.07,"s":"c3"},{"t":-13,"v":0.17,"s":"c3"},{"t":-9,"v":0.32,"s":"c3"},{"t":-5,"v":0.5,"s":"c3"},{"t":-2.4,"v":0.585,"s":"c3"},{"t":0,"v":0.55,"s":"c3"},{"t":2,"v":0.45,"s":"c3"},{"t":4,"v":0.3,"s":"c3"},{"t":6,"v":0.15,"s":"c3"},{"t":8,"v":0.03,"s":"c3"},{"t":9,"v":0.005,"s":"c3"},
{"t":-16,"v":0.005,"s":"c4"},{"t":-12,"v":0.03,"s":"c4"},{"t":-8,"v":0.08,"s":"c4"},{"t":-4,"v":0.17,"s":"c4"},{"t":0,"v":0.3,"s":"c4"},{"t":3,"v":0.39,"s":"c4"},{"t":5.3,"v":0.425,"s":"c4"},{"t":8,"v":0.4,"s":"c4"},{"t":11,"v":0.3,"s":"c4"},{"t":14,"v":0.18,"s":"c4"},{"t":17,"v":0.06,"s":"c4"},{"t":19,"v":0.01,"s":"c4"},
{"t":-4,"v":0.005,"s":"c5"},{"t":0,"v":0.02,"s":"c5"},{"t":4,"v":0.06,"s":"c5"},{"t":8,"v":0.13,"s":"c5"},{"t":12,"v":0.23,"s":"c5"},{"t":16,"v":0.35,"s":"c5"},{"t":19,"v":0.43,"s":"c5"},{"t":21.8,"v":0.47,"s":"c5"},{"t":24,"v":0.44,"s":"c5"},{"t":27,"v":0.36,"s":"c5"},{"t":30,"v":0.24,"s":"c5"},{"t":33,"v":0.12,"s":"c5"},{"t":36,"v":0.03,"s":"c5"},{"t":38,"v":0.005,"s":"c5"},
{"t":12,"v":0.005,"s":"c6"},{"t":16,"v":0.02,"s":"c6"},{"t":20,"v":0.05,"s":"c6"},{"t":24,"v":0.11,"s":"c6"},{"t":28,"v":0.2,"s":"c6"},{"t":32,"v":0.31,"s":"c6"},{"t":35,"v":0.4,"s":"c6"},{"t":38.2,"v":0.44,"s":"c6"},{"t":41,"v":0.42,"s":"c6"},{"t":44,"v":0.34,"s":"c6"},{"t":47,"v":0.22,"s":"c6"},{"t":50,"v":0.09,"s":"c6"},{"t":52,"v":0.01,"s":"c6"},
{"t":22,"v":0.005,"s":"c7"},{"t":28,"v":0.04,"s":"c7"},{"t":32,"v":0.1,"s":"c7"},{"t":34,"v":0.135,"s":"c7"},{"t":37,"v":0.22,"s":"c7"},{"t":40,"v":0.34,"s":"c7"},{"t":43,"v":0.46,"s":"c7"},{"t":46,"v":0.59,"s":"c7"},{"t":48.5,"v":0.68,"s":"c7"},{"t":50.6,"v":0.745,"s":"c7"},{"t":53.5,"v":0.8,"s":"c7"},
{"t":-62,"v":0.03,"s":"pts"},{"t":-58,"v":0.04,"s":"pts"},{"t":-54,"v":0.08,"s":"pts"},{"t":-50,"v":0.11,"s":"pts"},{"t":-46,"v":0.14,"s":"pts"},{"t":-42,"v":0.17,"s":"pts"},{"t":-38,"v":0.19,"s":"pts"},{"t":-34,"v":0.21,"s":"pts"},{"t":-30,"v":0.24,"s":"pts"},{"t":-29,"v":0.28,"s":"pts"},{"t":-27,"v":0.28,"s":"pts"},{"t":-24.5,"v":0.31,"s":"pts"},{"t":-22,"v":0.34,"s":"pts"},{"t":-19,"v":0.38,"s":"pts"},{"t":-16,"v":0.44,"s":"pts"},{"t":-13,"v":0.52,"s":"pts"},{"t":-11,"v":0.58,"s":"pts"},{"t":-9,"v":0.66,"s":"pts"},{"t":-7,"v":0.73,"s":"pts"},{"t":-5,"v":0.81,"s":"pts"},{"t":-3,"v":0.88,"s":"pts"},{"t":-1,"v":0.95,"s":"pts"},{"t":1,"v":0.98,"s":"pts"},{"t":3,"v":0.93,"s":"pts"},{"t":4,"v":0.89,"s":"pts"},{"t":5,"v":0.85,"s":"pts"},{"t":6,"v":0.8,"s":"pts"},{"t":7,"v":0.74,"s":"pts"},{"t":9,"v":0.66,"s":"pts"},{"t":11,"v":0.58,"s":"pts"},{"t":12,"v":0.57,"s":"pts"},{"t":14,"v":0.6,"s":"pts"},{"t":17,"v":0.61,"s":"pts"},{"t":20,"v":0.62,"s":"pts"},{"t":23,"v":0.63,"s":"pts"},{"t":26,"v":0.62,"s":"pts"},{"t":29,"v":0.62,"s":"pts"},{"t":32,"v":0.62,"s":"pts"},{"t":35,"v":0.65,"s":"pts"},{"t":38,"v":0.7,"s":"pts"},{"t":41,"v":0.75,"s":"pts"},{"t":44,"v":0.79,"s":"pts"},{"t":47,"v":0.81,"s":"pts"},{"t":50,"v":0.83,"s":"pts"},{"t":52,"v":0.84,"s":"pts"}
]
},
"vconcat": [
{"hconcat": [
{"width": 384, "height": 206, "data": {"name": "a"}, "layer": [
 {"transform": [{"filter": "datum.s != 'pts'"}], "mark": {"type": "line", "color": "#5c5c5c", "strokeWidth": 1.1},
  "encoding": {"x": {"field": "t", "type": "quantitative", "scale": {"domain": [-70, 67], "nice": false, "zero": false}, "axis": {"values": [-70,-60,-50,-40,-30,-20,-10,0,10,20,30,40,50,60], "labelExpr": "(datum.value+70)%20==0 && datum.value<=50 ? datum.label : ''", "labelAlign": {"condition": {"test": "datum.value == -70", "value": "right"}, "value": "center"}, "labelFlush": false, "labelPadding": 4, "title": "TEMPERATURE (℃)", "titleX": 152, "titleY": 29}},
   "y": {"field": "v", "type": "quantitative", "scale": {"domain": [0, 1.08], "nice": false}, "axis": {"values": [0,0.1,0.2,0.3,0.4,0.5,0.6,0.7,0.8,0.9,1], "labelExpr": "datum.value==0?'0':datum.value==1?'1':(round(datum.value*10)%2==0?''+round(datum.value*10):'')", "title": null}},
   "detail": {"field": "s", "type": "nominal"}}},
 {"transform": [{"filter": "datum.s == 'pts'"}], "mark": {"type": "circle", "color": "#3d3d3d", "size": 6, "opacity": 1},
  "encoding": {"x": {"field": "t", "type": "quantitative"}, "y": {"field": "v", "type": "quantitative"}}},
 {"data": {"values": [{"lab": "(a)"}]}, "mark": {"type": "text", "font": "DejaVu Sans", "fontSize": 14, "color": "#4a4a4a"},
  "encoding": {"x": {"datum": 53}, "y": {"datum": 1.0}, "text": {"field": "lab"}}}
]},
{"width": 384, "height": 206, "data": {"name": "b"}, "layer": [
 {"transform": [{"filter": "datum.s != 'pts'"}], "mark": {"type": "line", "color": "#5c5c5c", "strokeWidth": 1.1},
  "encoding": {"x": {"field": "t", "type": "quantitative", "scale": {"domain": [-70, 67], "nice": false, "zero": false}, "axis": {"values": [-70,-60,-50,-40,-30,-20,-10,0,10,20,30,40,50,60], "labelExpr": "(datum.value+70)%20==0 && datum.value<=50 ? datum.label : ''", "labelAlign": {"condition": {"test": "datum.value == -70", "value": "right"}, "value": "center"}, "labelFlush": false, "labelPadding": 4, "title": "TEMPERATURE (℃)", "titleX": 152, "titleY": 29}},
   "y": {"field": "v", "type": "quantitative", "scale": {"domain": [0, 1.08], "nice": false}, "axis": {"values": [0,0.1,0.2,0.3,0.4,0.5,0.6,0.7,0.8,0.9,1], "labelExpr": "datum.value==0?'0':datum.value==1?'1':(round(datum.value*10)%2==0?'.'+round(datum.value*10):'')", "title": null}},
   "detail": {"field": "s", "type": "nominal"}}},
 {"transform": [{"filter": "datum.s == 'pts'"}], "mark": {"type": "circle", "color": "#3d3d3d", "size": 6, "opacity": 1},
  "encoding": {"x": {"field": "t", "type": "quantitative"}, "y": {"field": "v", "type": "quantitative"}}},
 {"data": {"values": [{"lab": "(b)"}]}, "mark": {"type": "text", "font": "DejaVu Sans", "fontSize": 14, "color": "#4a4a4a"},
  "encoding": {"x": {"datum": 58.5}, "y": {"datum": 0.99}, "text": {"field": "lab"}}}
]}
], "spacing": 12},
{"hconcat": [
{"width": 384, "height": 206, "data": {"name": "c"}, "layer": [
 {"transform": [{"filter": "datum.s != 'pts'"}], "mark": {"type": "line", "color": "#5c5c5c", "strokeWidth": 1.1},
  "encoding": {"x": {"field": "t", "type": "quantitative", "scale": {"domain": [-70, 67], "nice": false, "zero": false}, "axis": {"values": [-70,-60,-50,-40,-30,-20,-10,0,10,20,30,40,50,60], "labelExpr": "(datum.value+70)%20==0 && datum.value<=50 ? datum.label : ''", "labelAlign": {"condition": {"test": "datum.value == -70", "value": "right"}, "value": "center"}, "labelFlush": false, "labelPadding": 4, "title": "TEMPERATURE (℃)", "titleX": 152, "titleY": 29}},
   "y": {"field": "v", "type": "quantitative", "scale": {"domain": [0, 1.08], "nice": false}, "axis": {"values": [0,0.1,0.2,0.3,0.4,0.5,0.6,0.7,0.8,0.9,1], "labelExpr": "datum.value==0?'0':datum.value==1?'1':(round(datum.value*10)%2==0?''+round(datum.value*10):'')", "title": null}},
   "detail": {"field": "s", "type": "nominal"}}},
 {"transform": [{"filter": "datum.s == 'pts'"}], "mark": {"type": "circle", "color": "#3d3d3d", "size": 6, "opacity": 1},
  "encoding": {"x": {"field": "t", "type": "quantitative"}, "y": {"field": "v", "type": "quantitative"}}},
 {"data": {"values": [{"lab": "(c)"}]}, "mark": {"type": "text", "font": "DejaVu Sans", "fontSize": 14, "color": "#4a4a4a"},
  "encoding": {"x": {"datum": 58.5}, "y": {"datum": 0.975}, "text": {"field": "lab"}}}
]},
{"width": 384, "height": 206, "data": {"name": "d"}, "layer": [
 {"transform": [{"filter": "datum.s != 'pts'"}], "mark": {"type": "line", "color": "#5c5c5c", "strokeWidth": 1.1},
  "encoding": {"x": {"field": "t", "type": "quantitative", "scale": {"domain": [-70, 67], "nice": false, "zero": false}, "axis": {"values": [-70,-60,-50,-40,-30,-20,-10,0,10,20,30,40,50,60], "labelExpr": "(datum.value+70)%20==0 && datum.value<=50 ? datum.label : ''", "labelAlign": {"condition": {"test": "datum.value == -70", "value": "right"}, "value": "center"}, "labelFlush": false, "labelPadding": 4, "title": "TEMPERATURE (℃)", "titleX": 152, "titleY": 29}},
   "y": {"field": "v", "type": "quantitative", "scale": {"domain": [0, 1.08], "nice": false}, "axis": {"values": [0,0.1,0.2,0.3,0.4,0.5,0.6,0.7,0.8,0.9,1], "labelExpr": "datum.value==0?'0':datum.value==1?'1':(round(datum.value*10)%2==0?'.'+round(datum.value*10):'')", "title": null}},
   "detail": {"field": "s", "type": "nominal"}}},
 {"transform": [{"filter": "datum.s == 'pts'"}], "mark": {"type": "circle", "color": "#3d3d3d", "size": 6, "opacity": 1},
  "encoding": {"x": {"field": "t", "type": "quantitative"}, "y": {"field": "v", "type": "quantitative"}}},
 {"data": {"values": [{"lab": "(d)"}]}, "mark": {"type": "text", "font": "DejaVu Sans", "fontSize": 14, "color": "#4a4a4a"},
  "encoding": {"x": {"datum": 60}, "y": {"datum": 0.975}, "text": {"field": "lab"}}}
]}
], "spacing": 12},
{"hconcat": [
{"width": 384, "height": 206, "data": {"name": "e"}, "layer": [
 {"transform": [{"filter": "datum.s != 'pts'"}], "mark": {"type": "line", "color": "#5c5c5c", "strokeWidth": 1.1},
  "encoding": {"x": {"field": "t", "type": "quantitative", "scale": {"domain": [-70, 67], "nice": false, "zero": false}, "axis": {"values": [-70,-60,-50,-40,-30,-20,-10,0,10,20,30,40,50,60], "labelExpr": "(datum.value+70)%20==0 && datum.value<=50 ? datum.label : ''", "labelAlign": {"condition": {"test": "datum.value == -70", "value": "right"}, "value": "center"}, "labelFlush": false, "labelPadding": 4, "title": "TEMPERATURE (℃)", "titleX": 148, "titleY": 29}},
   "y": {"field": "v", "type": "quantitative", "scale": {"domain": [0, 1.08], "nice": false}, "axis": {"values": [0,0.1,0.2,0.3,0.4,0.5,0.6,0.7,0.8,0.9,1], "labelExpr": "datum.value==0?'0':datum.value==1?'1':(round(datum.value*10)%2==0?''+round(datum.value*10):'')", "title": null}},
   "detail": {"field": "s", "type": "nominal"}}},
 {"transform": [{"filter": "datum.s == 'pts'"}], "mark": {"type": "circle", "color": "#3d3d3d", "size": 6, "opacity": 1},
  "encoding": {"x": {"field": "t", "type": "quantitative"}, "y": {"field": "v", "type": "quantitative"}}},
 {"data": {"values": [{"lab": "(e)"}]}, "mark": {"type": "text", "font": "DejaVu Sans", "fontSize": 14, "color": "#4a4a4a"},
  "encoding": {"x": {"datum": 58}, "y": {"datum": 0.96}, "text": {"field": "lab"}}}
]},
{"width": 374, "height": 206, "data": {"name": "f"}, "layer": [
 {"transform": [{"filter": "datum.s != 'pts'"}], "mark": {"type": "line", "color": "#5c5c5c", "strokeWidth": 1.1},
  "encoding": {"x": {"field": "t", "type": "quantitative", "scale": {"domain": [-70, 67], "nice": false, "zero": false}, "axis": {"values": [-70,-60,-50,-40,-30,-20,-10,0,10,20,30,40,50,60], "labelExpr": "(datum.value+70)%20==0 && datum.value<=50 ? datum.label : ''", "labelAlign": {"condition": {"test": "datum.value == -70", "value": "right"}, "value": "center"}, "labelFlush": false, "labelPadding": 4, "title": "TEMPERATURE (℃)", "titleX": 150, "titleY": 29}},
   "y": {"field": "v", "type": "quantitative", "scale": {"domain": [0, 1.08], "nice": false}, "axis": {"values": [0,0.1,0.2,0.3,0.4,0.5,0.6,0.7,0.8,0.9,1], "labelExpr": "datum.value==0?'0':datum.value==1?'1':(round(datum.value*10)%2==0?'.'+round(datum.value*10):'')", "title": ["I","N","T","E","N","S","I","T","Y"], "titleAngle": 0, "titleX": -31, "titleY": 6, "titleBaseline": "top", "titleAlign": "center", "titleFontSize": 11, "titleLineHeight": 14}},
   "detail": {"field": "s", "type": "nominal"}}},
 {"transform": [{"filter": "datum.s == 'pts'"}], "mark": {"type": "circle", "color": "#3d3d3d", "size": 6, "opacity": 1},
  "encoding": {"x": {"field": "t", "type": "quantitative"}, "y": {"field": "v", "type": "quantitative"}}},
 {"data": {"values": [{"lab": "(f)"}]}, "mark": {"type": "text", "font": "DejaVu Sans", "fontSize": 14, "color": "#4a4a4a"},
  "encoding": {"x": {"datum": 59}, "y": {"datum": 0.96}, "text": {"field": "lab"}}}
]}
], "spacing": 12}
],
"spacing": 62
}
